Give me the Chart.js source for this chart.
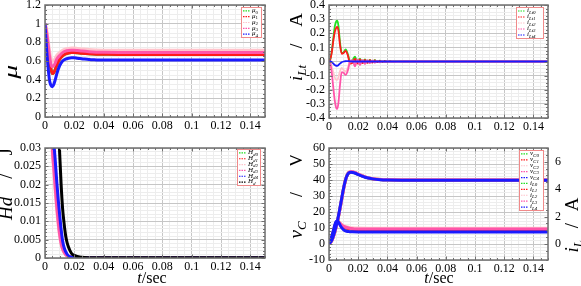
<!DOCTYPE html>
<html>
<head>
<meta charset="utf-8">
<title>Controller transients</title>
<script src="https://cdn.jsdelivr.net/npm/chart.js@4.4.1/dist/chart.umd.min.js"></script>
<style>
    html, body { margin: 0; padding: 0; background: #fff; }
    #wrap { position: relative; width: 581px; height: 286px; overflow: hidden; }
    canvas { position: absolute; }
</style>
</head>
<body>
<div id="wrap">
    <canvas id="muChart" width="290" height="143" style="left:0;top:0"></canvas>
    <canvas id="iltChart" width="291" height="143" style="left:290px;top:0"></canvas>
    <canvas id="hdChart" width="290" height="143" style="left:0;top:143px"></canvas>
    <canvas id="vcChart" width="291" height="143" style="left:290px;top:143px"></canvas>
</div>
<script>
// ==================== DATA ====================

// top left: mu
const muTime = [0, 0.001, 0.002, 0.003, 0.004, 0.005, 0.006, 0.007, 0.008, 0.010, 0.012, 0.014, 0.016, 0.018, 0.020, 0.022, 0.025, 0.030, 0.035, 0.040, 0.050, 0.150];
const mu0 = [1.00, 0.88, 0.76, 0.62, 0.52, 0.465, 0.475, 0.51, 0.555, 0.62, 0.655, 0.675, 0.685, 0.690, 0.690, 0.688, 0.683, 0.677, 0.673, 0.672, 0.670, 0.670];
const mu1 = [1.00, 0.88, 0.76, 0.62, 0.52, 0.465, 0.475, 0.51, 0.555, 0.62, 0.655, 0.675, 0.685, 0.690, 0.690, 0.688, 0.683, 0.677, 0.673, 0.672, 0.670, 0.670];
const mu2 = [1.00, 0.95, 0.84, 0.72, 0.63, 0.60, 0.605, 0.63, 0.66, 0.69, 0.715, 0.728, 0.735, 0.738, 0.738, 0.735, 0.730, 0.722, 0.718, 0.716, 0.715, 0.715];
const mu3 = [1.00, 0.92, 0.80, 0.66, 0.57, 0.54, 0.55, 0.58, 0.62, 0.66, 0.69, 0.705, 0.712, 0.715, 0.715, 0.712, 0.706, 0.699, 0.695, 0.693, 0.692, 0.692];
const mu4 = [1.00, 0.75, 0.55, 0.40, 0.34, 0.325, 0.35, 0.40, 0.46, 0.55, 0.60, 0.62, 0.63, 0.635, 0.635, 0.63, 0.625, 0.615, 0.612, 0.61, 0.61, 0.61];

// top right: i_Lt
const iltTime = [0, 0.001, 0.002, 0.003, 0.004, 0.005, 0.0057, 0.0065, 0.0075, 0.0087, 0.010, 0.0114, 0.013, 0.0144, 0.0161, 0.0178, 0.0195, 0.0212, 0.0229, 0.0246, 0.0263, 0.028, 0.0297, 0.0314, 0.0331, 0.0348, 0.0365, 0.0382, 0.0399, 0.0416, 0.0433, 0.045, 0.050, 0.060, 0.150];
const ilt0 = [0, 0.02, 0.08, 0.17, 0.25, 0.285, 0.29, 0.25, 0.14, 0.06, 0.065, 0.085, 0.05, 0.0, 0.01, 0.035, -0.01, 0.02, -0.01, 0.015, -0.008, 0.012, -0.006, 0.009, -0.005, 0.006, -0.003, 0.004, -0.002, 0.003, -0.001, 0.002, 0, 0, 0];
const ilt1 = [0, 0.02, 0.07, 0.15, 0.21, 0.24, 0.245, 0.215, 0.12, 0.055, 0.06, 0.075, 0.04, -0.015, -0.01, 0.02, -0.015, 0.015, -0.012, 0.012, -0.009, 0.009, -0.007, 0.007, -0.005, 0.005, -0.003, 0.003, -0.002, 0.002, -0.001, 0.001, 0, 0, 0];
const ilt2 = [0, -0.01, -0.04, -0.08, -0.115, -0.13, -0.13, -0.11, -0.07, -0.045, -0.06, -0.07, -0.04, 0.0, 0.005, -0.015, 0.008, -0.01, 0.006, -0.008, 0.005, -0.006, 0.004, -0.004, 0.003, -0.003, 0.002, -0.002, 0.001, -0.001, 0, 0, 0, 0, 0];
const ilt3 = [0, -0.02, -0.09, -0.19, -0.28, -0.33, -0.335, -0.29, -0.17, -0.075, -0.08, -0.095, -0.06, 0.0, 0.01, -0.035, 0.015, -0.025, 0.012, -0.018, 0.009, -0.012, 0.007, -0.009, 0.005, -0.006, 0.003, -0.004, 0.002, -0.003, 0.001, -0.002, 0, 0, 0];
const ilt4 = [0, 0, -0.005, -0.015, -0.025, -0.03, -0.03, -0.025, -0.015, -0.005, 0, 0.002, 0.003, 0.001, 0, 0, 0, 0, 0, 0, 0, 0, 0, 0, 0, 0, 0, 0, 0, 0, 0, 0, 0, 0, 0];

// bottom left: Hd
const hdTime = [0, 0.002, 0.004, 0.005, 0.006, 0.007, 0.008, 0.009, 0.010, 0.011, 0.012, 0.013, 0.014, 0.015, 0.016, 0.018, 0.020, 0.025, 0.030, 0.150];
const hd0 = [0.20, 0.09, 0.045, 0.032, 0.026, 0.021, 0.0155, 0.011, 0.0072, 0.0045, 0.0028, 0.0018, 0.0011, 0.0007, 0.0004, 0.0002, 0.0001, 0.00005, 0.00003, 0.00002];
const hd1 = [0.20, 0.09, 0.045, 0.032, 0.026, 0.021, 0.0155, 0.011, 0.0072, 0.0045, 0.0028, 0.0018, 0.0011, 0.0007, 0.0004, 0.0002, 0.0001, 0.00005, 0.00003, 0.00002];
const hd2 = [0.19, 0.085, 0.041, 0.029, 0.0235, 0.018, 0.013, 0.009, 0.0058, 0.0036, 0.0022, 0.0014, 0.0009, 0.0005, 0.0003, 0.00015, 0.0001, 0.00005, 0.00003, 0.00002];
const hd3 = [0.19, 0.087, 0.043, 0.030, 0.0245, 0.019, 0.014, 0.0098, 0.0064, 0.004, 0.0025, 0.0016, 0.001, 0.0006, 0.0004, 0.0002, 0.0001, 0.00005, 0.00003, 0.00002];
const hd4 = [0.25, 0.11, 0.055, 0.040, 0.032, 0.0265, 0.021, 0.016, 0.0118, 0.0078, 0.0047, 0.0029, 0.0018, 0.0011, 0.0006, 0.00025, 0.0001, 0.00005, 0.00003, 0.00002];
const hdSum = [0.50, 0.35, 0.20, 0.14, 0.10, 0.075, 0.055, 0.04, 0.0285, 0.02, 0.0135, 0.0095, 0.0063, 0.0043, 0.003, 0.0013, 0.0007, 0.0002, 0.0001, 0.00005];

// bottom right: v_C (left axis) and i_L (right axis)
const vcTime = [0, 0.002, 0.004, 0.006, 0.008, 0.010, 0.011, 0.012, 0.013, 0.014, 0.015, 0.016, 0.018, 0.020, 0.023, 0.026, 0.030, 0.035, 0.040, 0.050, 0.150];
const vc0 = [0, 2.3, 7.6, 15, 24.5, 34.5, 38.8, 42, 44, 44.9, 45.1, 45, 44.5, 43.6, 42.5, 41.5, 40.8, 40.3, 40.1, 40, 40];
const vc1 = [0, 2.3, 7.6, 15, 24.5, 34.5, 38.8, 42, 44, 44.9, 45.1, 45, 44.5, 43.6, 42.5, 41.5, 40.8, 40.3, 40.1, 40, 40];
const vc2 = [0, 2.2, 7.4, 14.8, 24.2, 34.3, 38.7, 42, 44.1, 45.1, 45.3, 45.2, 44.7, 43.8, 42.6, 41.6, 40.9, 40.4, 40.2, 40.1, 40.1];
const vc3 = [0, 2.3, 7.5, 14.9, 24.4, 34.4, 38.8, 42, 44.1, 45, 45.2, 45.1, 44.6, 43.7, 42.5, 41.5, 40.8, 40.3, 40.1, 40, 40];
const vc4 = [0, 2.5, 8, 15.5, 25, 35, 39, 42, 43.8, 44.6, 44.8, 44.7, 44.2, 43.4, 42.3, 41.4, 40.7, 40.2, 40.0, 39.9, 39.9];
const ilTime = [0, 0.001, 0.002, 0.003, 0.004, 0.005, 0.006, 0.007, 0.008, 0.009, 0.010, 0.012, 0.014, 0.016, 0.020, 0.030, 0.050, 0.150];
const il0 = [0, 0.2, 0.5, 0.9, 1.3, 1.55, 1.62, 1.55, 1.42, 1.32, 1.25, 1.16, 1.11, 1.08, 1.06, 1.05, 1.05, 1.05];
const il1 = [0, 0.2, 0.5, 0.9, 1.3, 1.55, 1.62, 1.55, 1.42, 1.32, 1.25, 1.16, 1.11, 1.08, 1.06, 1.05, 1.05, 1.05];
const il2 = [0, 0.18, 0.45, 0.85, 1.25, 1.52, 1.62, 1.58, 1.48, 1.4, 1.34, 1.26, 1.21, 1.18, 1.16, 1.15, 1.15, 1.15];
const il3 = [0, 0.19, 0.48, 0.88, 1.28, 1.54, 1.62, 1.56, 1.45, 1.36, 1.29, 1.2, 1.15, 1.12, 1.1, 1.09, 1.09, 1.09];
const il4 = [0, 0.25, 0.6, 1.0, 1.4, 1.65, 1.65, 1.5, 1.3, 1.15, 1.03, 0.93, 0.9, 0.89, 0.88, 0.88, 0.88, 0.88];

// ==================== STYLE ====================

const SERIF = "'Liberation Serif', 'DejaVu Serif', serif";
const GRID_MAJOR = '#c6c6c6';
const GRID_MINOR = '#ededed';
const C_GREEN = '#22e022';
const C_RED = '#ff1a1a';
const C_LPINK = '#ffc4cc';
const C_PINK = '#ff55aa';
const C_BLUE = '#1a1aff';
const C_BLACK = '#000000';

// titles and legend boxes, keyed by canvas id (canvas coordinates)
const DECOR = {
    muChart: {
        titles: [{ parts: [['μ', 'i']], x: 12, y: 74, rot: true, size: 19, length: 14 }],
        legend: { x: 241, y: 7, w: 21, h: 31, labels: [0, 1, 2, 3, 4].map(n => [['μ', 'i'], [String(n), 'S']]) }
    },
    iltChart: {
        titles: [{ parts: [['i', 'i'], ['Lt', 's'], [' / A', '']], x: 7, y: 47, rot: true, size: 19, length: 68 }],
        legend: { x: 226, y: 7, w: 28, h: 32, labels: [0, 1, 2, 3, 4].map(n => [['i', 'i'], ['Lt' + n, 's']]) }
    },
    hdChart: {
        titles: [
            { parts: [['Hd', 'i'], [' / J', '']], x: 7, y: 41, rot: true, size: 19, length: 72 },
            { parts: [['t', 'i'], ['/sec', '']], x: 152, y: 136, size: 16 }
        ],
        legend: { x: 237, y: 6, w: 24, h: 37, labels: [0, 1, 2, 3, 4].map(n => [['H', 'i'], ['d' + n, 's']]).concat([[['H', 'i'], ['d', 's']]]) }
    },
    vcChart: {
        titles: [
            { parts: [['v', 'i'], ['C', 's'], [' / V', '']], x: 7, y: 53, rot: true, size: 19, length: 85 },
            { parts: [['i', 'i'], ['L', 's'], [' / A', '']], x: 283, y: 82, rot: true, size: 19, length: 55 },
            { parts: [['t', 'i'], ['/sec', '']], x: 149, y: 136, size: 16 }
        ],
        legend: { x: 229, y: 7, w: 25, h: 61, labels: [0, 1, 2, 3, 4].map(n => [['v', 'i'], ['C' + n, 's']]).concat([0, 1, 2, 3, 4].map(n => [['i', 'i'], ['L' + n, 's']])) }
    }
};

// ==================== HELPERS ====================

function isMajor(v, step) {
    const r = v / step;
    return Math.abs(r - Math.round(r)) < 1e-6;
}

function fmt(v) {
    return String(parseFloat(v.toFixed(6)));
}

function fixWidth(w) {
    return scale => { scale.width = w; scale.paddingTop = 0; scale.paddingBottom = 0; };
}

function fixHeight(h) {
    return scale => { scale.height = h; scale.paddingLeft = 0; scale.paddingRight = 0; };
}

function axis(o) {
    return {
        type: 'linear',
        position: o.position,
        min: o.min,
        max: o.max,
        afterFit: o.fit,
        grid: {
            display: o.grid !== false,
            drawTicks: false,
            lineWidth: 1,
            color: c => (c.tick && isMajor(c.tick.value, o.major)) ? GRID_MAJOR : GRID_MINOR
        },
        border: { display: false },
        ticks: {
            stepSize: o.minor,
            autoSkip: false,
            maxRotation: 0,
            padding: o.pad,
            color: '#000',
            font: { family: SERIF, size: 12 },
            callback: v => isMajor(v, o.major) ? fmt(v) : ''
        }
    };
}

function series(label, xs, ys, color, width, i, axisId) {
    return {
        label: label,
        data: xs.map((x, k) => ({ x: x, y: ys[k] })),
        borderColor: color,
        backgroundColor: color,
        borderWidth: width,
        pointRadius: 0,
        cubicInterpolationMode: 'monotone',
        fill: false,
        clip: 0,
        order: -i,
        yAxisID: axisId || 'y'
    };
}

function styleFont(style, size) {
    const sub = style === 's' || style === 'S';
    const italic = style === 'i' || style === 's';
    return (italic ? 'italic ' : '') + (sub ? Math.round(size * 0.7) : size) + 'px ' + SERIF;
}

// text with subscripts; centred on (x, y) or left-aligned when left is true.
// With a length, the spaces are widened to fill it (a single glyph is stretched instead).
function drawRich(ctx, t) {
    const glyphs = [];
    t.parts.forEach(p => {
        ctx.font = styleFont(p[1], t.size);
        Array.from(p[0]).forEach(ch => glyphs.push({ ch: ch, style: p[1], w: ctx.measureText(ch).width }));
    });
    const total = glyphs.reduce((a, g) => a + g.w, 0);
    const spaces = glyphs.filter(g => g.ch === ' ').length;
    let gap = 0;
    let stretch = 1;
    if (t.length && spaces > 0) gap = Math.max(0, (t.length - total) / spaces);
    if (t.length && glyphs.length === 1) stretch = t.length / total;
    const full = total + gap * spaces;
    ctx.save();
    ctx.translate(t.x, t.y);
    if (t.rot) ctx.rotate(-Math.PI / 2);
    ctx.scale(stretch, 1);
    ctx.fillStyle = '#000';
    ctx.textAlign = 'left';
    ctx.textBaseline = 'middle';
    let x = t.left ? 0 : -full / 2 / stretch;
    glyphs.forEach(g => {
        ctx.font = styleFont(g.style, t.size);
        const sub = g.style === 's' || g.style === 'S';
        ctx.fillText(g.ch, x, sub ? t.size * 0.28 : 0);
        x += g.w + (g.ch === ' ' ? gap : 0);
    });
    ctx.restore();
}

// ==================== PLUGINS ====================

const framePlugin = {
    id: 'framePlugin',
    afterDatasetsDraw(chart) {
        const { ctx, chartArea: a, scales } = chart;
        const right = scales.y2 || scales.y;
        ctx.save();
        ctx.strokeStyle = '#707070';
        ctx.lineWidth = 1;
        ctx.beginPath();
        scales.x.ticks.forEach(t => {
            const px = Math.round(scales.x.getPixelForValue(t.value)) + 0.5;
            const len = t.label ? 3.5 : 2;
            ctx.moveTo(px, a.top); ctx.lineTo(px, a.top + len);
            ctx.moveTo(px, a.bottom); ctx.lineTo(px, a.bottom - len);
        });
        scales.y.ticks.forEach(t => {
            const py = Math.round(scales.y.getPixelForValue(t.value)) + 0.5;
            ctx.moveTo(a.left, py); ctx.lineTo(a.left + (t.label ? 3.5 : 2), py);
        });
        right.ticks.forEach(t => {
            const py = Math.round(right.getPixelForValue(t.value)) + 0.5;
            ctx.moveTo(a.right, py); ctx.lineTo(a.right - (t.label ? 3.5 : 2), py);
        });
        ctx.stroke();
        ctx.lineWidth = 1.5;
        ctx.strokeRect(a.left, a.top, a.right - a.left, a.bottom - a.top);
        ctx.restore();
    }
};

const decorPlugin = {
    id: 'decorPlugin',
    afterDraw(chart) {
        const d = DECOR[chart.canvas.id];
        if (!d) return;
        const ctx = chart.ctx;
        d.titles.forEach(t => drawRich(ctx, t));

        const lg = d.legend;
        ctx.save();
        ctx.fillStyle = '#fff';
        ctx.fillRect(lg.x, lg.y, lg.w, lg.h);
        ctx.strokeStyle = '#f08a8a';
        ctx.lineWidth = 1;
        ctx.strokeRect(lg.x + 0.5, lg.y + 0.5, lg.w - 1, lg.h - 1);
        const rowH = (lg.h - 2) / lg.labels.length;
        lg.labels.forEach((parts, i) => {
            const ds = chart.data.datasets[i];
            const cy = lg.y + 1 + rowH * (i + 0.5);
            ctx.setLineDash([1.5, 1]);
            ctx.strokeStyle = ds.borderColor;
            ctx.lineWidth = 1.2;
            ctx.beginPath();
            ctx.moveTo(lg.x + 2, cy);
            ctx.lineTo(lg.x + 9, cy);
            ctx.stroke();
            ctx.setLineDash([]);
            drawRich(ctx, { parts: parts, x: lg.x + 11, y: cy - 0.5, size: 7, left: true });
        });
        ctx.restore();
    }
};

function baseOptions(padRight, scales) {
    return {
        responsive: false,
        animation: false,
        events: [],
        layout: { padding: { left: 0, right: padRight, top: 5, bottom: 0 } },
        scales: scales,
        plugins: { legend: { display: false }, tooltip: { enabled: false } }
    };
}

// ==================== CHARTS ====================

new Chart(document.getElementById('muChart'), {
    type: 'line',
    data: {
        datasets: [
            series('mu0', muTime, mu0, C_GREEN, 3, 0),
            series('mu1', muTime, mu1, C_RED, 3, 1),
            series('mu2', muTime, mu2, C_LPINK, 3, 2),
            series('mu3', muTime, mu3, C_PINK, 3, 3),
            series('mu4', muTime, mu4, C_BLUE, 3, 4)
        ]
    },
    options: baseOptions(25, {
        x: axis({ position: 'bottom', min: 0, max: 0.15, major: 0.02, minor: 0.005, pad: 2, fit: fixHeight(26) }),
        y: axis({ position: 'left', min: 0, max: 1.2, major: 0.2, minor: 0.05, pad: 4, fit: fixWidth(45) })
    }),
    plugins: [framePlugin, decorPlugin]
});

new Chart(document.getElementById('iltChart'), {
    type: 'line',
    data: {
        datasets: [
            series('ilt0', iltTime, ilt0, C_GREEN, 1.8, 0),
            series('ilt1', iltTime, ilt1, C_RED, 1.8, 1),
            series('ilt2', iltTime, ilt2, C_LPINK, 1.8, 2),
            series('ilt3', iltTime, ilt3, C_PINK, 1.8, 3),
            series('ilt4', iltTime, ilt4, C_BLUE, 1.8, 4)
        ]
    },
    options: baseOptions(33, {
        x: axis({ position: 'bottom', min: 0, max: 0.15, major: 0.02, minor: 0.005, pad: 2, fit: fixHeight(25) }),
        y: axis({ position: 'left', min: -0.4, max: 0.4, major: 0.1, minor: 0.025, pad: 4, fit: fixWidth(39) })
    }),
    plugins: [framePlugin, decorPlugin]
});

new Chart(document.getElementById('hdChart'), {
    type: 'line',
    data: {
        datasets: [
            series('hd0', hdTime, hd0, C_GREEN, 3, 0),
            series('hd1', hdTime, hd1, C_RED, 3, 1),
            series('hd2', hdTime, hd2, C_LPINK, 3, 2),
            series('hd3', hdTime, hd3, C_PINK, 3, 3),
            series('hd4', hdTime, hd4, C_BLUE, 3, 4),
            series('hd', hdTime, hdSum, C_BLACK, 3, 5)
        ]
    },
    options: baseOptions(25, {
        x: axis({ position: 'bottom', min: 0, max: 0.15, major: 0.02, minor: 0.005, pad: 2, fit: fixHeight(28) }),
        y: axis({ position: 'left', min: 0, max: 0.03, major: 0.005, minor: 0.001, pad: 4, fit: fixWidth(45) })
    }),
    plugins: [framePlugin, decorPlugin]
});

new Chart(document.getElementById('vcChart'), {
    type: 'line',
    data: {
        datasets: [
            series('vc0', vcTime, vc0, C_GREEN, 3, 0),
            series('vc1', vcTime, vc1, C_RED, 3, 1),
            series('vc2', vcTime, vc2, C_LPINK, 3, 2),
            series('vc3', vcTime, vc3, C_PINK, 3, 3),
            series('vc4', vcTime, vc4, C_BLUE, 3, 9),
            series('il0', ilTime, il0, C_GREEN, 3, 4, 'y2'),
            series('il1', ilTime, il1, C_RED, 3, 6, 'y2'),
            series('il2', ilTime, il2, C_LPINK, 3, 5, 'y2'),
            series('il3', ilTime, il3, C_PINK, 3, 7, 'y2'),
            series('il4', ilTime, il4, C_BLUE, 3, 8, 'y2')
        ]
    },
    options: baseOptions(0, {
        x: axis({ position: 'bottom', min: 0, max: 0.15, major: 0.02, minor: 0.005, pad: 2, fit: fixHeight(26) }),
        y: axis({ position: 'left', min: -10, max: 60, major: 10, minor: 2, pad: 4, fit: fixWidth(39) }),
        y2: axis({ position: 'right', min: -7 / 6, max: 7, major: 2, minor: 0.5, pad: 7, grid: false, fit: fixWidth(33) })
    }),
    plugins: [framePlugin, decorPlugin]
});
</script>
</body>
</html>
